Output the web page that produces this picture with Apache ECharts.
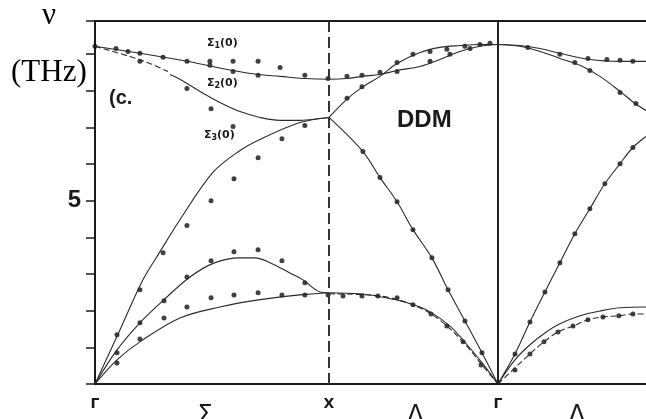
<!DOCTYPE html>
<html>
<head>
<meta charset="utf-8">
<script src="https://cdn.jsdelivr.net/npm/echarts@6/dist/echarts.min.js"></script>
<style>
  html, body { margin: 0; padding: 0; background: #fff; }
  #chart { width: 646px; height: 419px; }
</style>
</head>
<body>
<div id="chart"></div>
<script>
  // path coordinate q: Γ = 0, X = 1, Γ = 1.722, picture cut at 2.355 ; ν in THz
  const pointNames = ['Γ', 'Σ', 'X', 'Δ', 'Γ', 'Λ']
  const pointPos = [0, 0.47, 1, 1.37, 1.722, 2.06]
  const qX = 1
  const qGamma = 1.722
  const qMax = 2.355
  const nuMax = 9.9

  // calculated branches (DDM)
  const sigma1Top = [[0,9.21],[0.192,9.02],[0.393,8.80],[0.590,8.55],[0.697,8.44],[0.791,8.39],[0.897,8.33],[1.0,8.31],
    [1.077,8.33],[1.141,8.39],[1.218,8.44],[1.291,8.55],[1.389,8.66],[1.474,8.85],[1.560,9.07],[1.645,9.21],[1.722,9.26]]
  const sigma2Start = [[0,9.21],[0.150,8.93],[0.235,8.74],[0.312,8.52]]
  const sigma2 = [[0.321,8.44],[0.363,8.31],[0.449,7.98],[0.534,7.68],[0.620,7.43],[0.705,7.27],[0.791,7.19],[0.876,7.19],
    [0.962,7.24],[1.0,7.27]]
  const deltaUp = [[1.0,7.27],[1.077,7.77],[1.141,8.09],[1.218,8.39],[1.291,8.74],[1.389,9.04],[1.474,9.18],[1.560,9.23],
    [1.645,9.26],[1.722,9.26]]
  const sigma3 = [[0,0],[0.107,1.48],[0.205,2.84],[0.278,3.61],[0.363,4.48],[0.504,5.77],[0.620,6.37],[0.705,6.67],
    [0.876,7.13],[1.0,7.27]]
  const deltaLA = [[1.0,7.27],[1.145,6.34],[1.218,5.63],[1.291,4.97],[1.359,4.21],[1.440,3.44],[1.509,2.57],[1.581,1.72],
    [1.654,0.85],[1.722,0]]
  const sigmaHump = [[0,0],[0.094,0.93],[0.192,1.67],[0.295,2.30],[0.406,2.92],[0.513,3.31],[0.620,3.44],[0.684,3.44],
    [0.748,3.31],[0.833,3.03],[0.889,2.84],[0.962,2.51],[1.0,2.49]]
  const deltaTA = [[1.0,2.49],[1.132,2.46],[1.218,2.38],[1.303,2.27],[1.389,2.10],[1.440,1.94],[1.517,1.58],[1.573,1.20],
    [1.658,0.55],[1.722,0]]
  const sigmaLow = [[0,0],[0.094,0.66],[0.192,1.15],[0.363,1.80],[0.534,2.10],[0.705,2.30],[0.876,2.43],[1.0,2.49]]
  const deltaLowDash = [[1.0,2.46],[1.218,2.40],[1.359,2.16],[1.462,1.80],[1.573,1.15],[1.658,0.49],[1.722,0]]
  const lambdaTO = [[1.722,9.26],[1.816,9.23],[1.902,9.15],[1.987,9.02],[2.115,8.85],[2.244,8.80],[2.355,8.80]]
  const lambdaLO = [[1.722,9.26],[1.816,9.21],[1.902,9.07],[1.987,8.88],[2.073,8.69],[2.158,8.39],[2.244,7.98],
    [2.308,7.65],[2.355,7.46]]
  const lambdaLA = [[1.722,0],[1.795,0.82],[1.859,1.69],[1.923,2.51],[1.987,3.31],[2.051,4.10],[2.115,4.78],[2.179,5.46],
    [2.244,6.01],[2.299,6.45],[2.355,6.75]]
  const lambdaTA = [[1.722,0],[1.795,0.66],[1.859,1.07],[1.923,1.39],[1.987,1.64],[2.073,1.86],[2.158,1.99],[2.244,2.08],
    [2.355,2.10]]
  const lambdaTADash = [[1.722,0],[1.795,0.44],[1.859,0.82],[1.919,1.15],[1.979,1.42],[2.043,1.58],[2.107,1.75],
    [2.171,1.83],[2.239,1.86],[2.299,1.91],[2.355,1.91]]

  // measured points
  const measured = [
    [0,9.21],[0.090,9.15],[0.141,9.07],[0.192,9.02],[0.291,8.91],[0.393,8.80],[0.491,8.80],[0.491,8.69],[0.590,8.80],
    [0.590,8.52],[0.697,8.80],[0.697,8.42],[0.791,8.63],[0.897,8.42],[0.996,8.33],
    [0.192,8.80],[0.393,8.06],[0.496,7.51],
    [0.590,7.02],[0.897,7.05],[0.799,6.69],[0.697,6.17],[0.594,5.60],[0.496,5.00],[0.393,4.32],[0.291,3.58],[0.192,2.57],[0.094,1.34],
    [0.094,0.85],[0.192,1.67],[0.295,2.27],[0.393,2.92],[0.496,3.36],[0.594,3.61],[0.697,3.66],[0.799,3.36],[0.897,2.76],
    [0.094,0.57],[0.192,1.23],[0.295,1.80],[0.393,2.10],[0.496,2.35],[0.594,2.43],[0.697,2.49],[0.799,2.43],[0.897,2.43],
    [0.996,2.43],[1.060,2.40],[1.141,2.40],[1.209,2.40],[1.291,2.35],[1.359,2.16],[1.436,1.91],[1.504,1.58],[1.573,1.15],[1.650,0.52],
    [1.145,6.34],[1.218,5.63],[1.291,4.97],[1.359,4.21],[1.440,3.44],[1.509,2.57],[1.581,1.72],[1.654,0.85],
    [1.077,8.39],[1.141,8.42],[1.218,8.50],[1.291,8.77],[1.291,8.52],[1.359,8.99],[1.432,9.07],[1.504,9.13],[1.581,9.21],
    [1.645,9.26],[1.688,9.29],[1.077,7.79],[1.141,8.11],[1.432,8.80],[1.517,8.99],[1.603,9.15],
    [1.850,9.18],[1.987,8.99],[2.107,8.88],[2.188,8.85],[2.244,8.83],[2.299,8.80],
    [2.051,8.77],[2.115,8.55],[2.244,7.95],[2.312,7.65],
    [1.795,0.82],[1.859,1.69],[1.923,2.51],[1.987,3.31],[2.051,4.10],[2.115,4.78],[2.179,5.46],[2.244,6.01],[2.299,6.45],
    [1.795,0.38],[1.859,0.82],[1.919,1.15],[1.979,1.42],[2.043,1.58],[2.107,1.75],[2.171,1.83],[2.239,1.86],[2.299,1.91]
  ]

  const ink = '#1a1a1a'
  function curve(data, dashed) {
    return {
      type: 'line', data: data, smooth: 0.35, symbol: 'none', silent: true,
      lineStyle: {color: '#2a2a2a', width: 1.1, type: dashed ? [6, 3] : 'solid'}
    }
  }
  const subRich = {
    g: {font: 'bold 11px "DejaVu Sans"', fill: ink},
    n: {font: 'bold 8px "DejaVu Sans"', fill: ink, padding: [5, 0, 0, 0]}
  }

  const chart = echarts.init(document.getElementById('chart'))
  chart.setOption({
    animation: false,
    grid: {left: 95, top: 21, right: 0, bottom: 35, outerBoundsMode: 'none'},
    xAxis: [{
      type: 'value', min: 0, max: qMax,
      axisLine: {lineStyle: {color: ink, width: 2}},
      axisTick: {show: false},
      splitLine: {show: false},
      axisLabel: {
        customValues: pointPos,
        margin: 10,
        showMinLabel: true,
        formatter: function(v) {
          let i = 0
          pointPos.forEach(function(p, k) { if (Math.abs(p - v) < 1e-6) i = k })
          const small = pointNames[i] === 'Γ' || pointNames[i] === 'X'
          return small ? '{s|' + pointNames[i] + '}' : '{b|' + pointNames[i] + '}'
        },
        rich: {
          s: {fontSize: 14, fontWeight: 'bold', fontFamily: 'DejaVu Sans', color: ink, padding: [3, 0, 0, 0]},
          b: {fontSize: 24, fontFamily: 'DejaVu Sans', color: ink, padding: [10, 0, 0, 0]}
        }
      }
    }, {
      type: 'value', position: 'top', min: 0, max: qMax,
      axisLine: {lineStyle: {color: ink, width: 2}},
      axisTick: {show: false}, axisLabel: {show: false}, splitLine: {show: false}
    }],
    yAxis: {
      type: 'value', min: 0, max: nuMax, interval: 1,
      axisLine: {lineStyle: {color: ink, width: 2}},
      axisTick: {show: true, length: 9, lineStyle: {color: ink, width: 1.5}},
      splitLine: {show: false},
      axisLabel: {
        margin: 14, fontSize: 24, fontWeight: 'bold', fontFamily: 'Liberation Sans', color: ink,
        formatter: function(v) { return v === 5 ? '5' : '' }
      }
    },
    graphic: [
      {type: 'text', left: 42, top: 0, style: {text: 'ν', font: '31px "Liberation Serif"', fill: '#000'}},
      {type: 'text', left: 11, top: 57, style: {text: '(THz)', font: '31px "Liberation Serif"', fill: '#000'}},
      {type: 'text', left: 109, top: 88, style: {text: '(c.', font: 'bold 20px "Liberation Sans"', fill: ink}},
      {type: 'text', left: 397, top: 108, style: {text: 'DDM', font: 'bold 24px "Liberation Sans"', fill: ink}},
      {type: 'text', left: 207, top: 38, style: {text: '{g|Σ}{n|1}{g|(0)}', rich: subRich}},
      {type: 'text', left: 207, top: 78, style: {text: '{g|Σ}{n|2}{g|(0)}', rich: subRich}},
      {type: 'text', left: 204, top: 130, style: {text: '{g|Σ}{n|3}{g|(0)}', rich: subRich}}
    ],
    series: [
      Object.assign(curve(sigma1Top, false), {
        markLine: {
          silent: true, symbol: 'none', label: {show: false},
          data: [
            {xAxis: qX, lineStyle: {color: '#333', width: 2, type: [11, 5]}},
            {xAxis: qGamma, lineStyle: {color: '#222', width: 2, type: 'solid'}}
          ]
        }
      }),
      curve(sigma2Start, true),
      curve(sigma2, false),
      curve(deltaUp, false),
      curve(sigma3, false),
      curve(deltaLA, false),
      curve(sigmaHump, false),
      curve(deltaTA, false),
      curve(sigmaLow, false),
      curve(deltaLowDash, true),
      curve(lambdaTO, false),
      curve(lambdaLO, false),
      curve(lambdaLA, false),
      curve(lambdaTA, false),
      curve(lambdaTADash, true),
      {
        type: 'scatter', data: measured, symbol: 'circle', symbolSize: 5, silent: true,
        itemStyle: {color: '#111'}
      }
    ]
  })
</script>
</body>
</html>
